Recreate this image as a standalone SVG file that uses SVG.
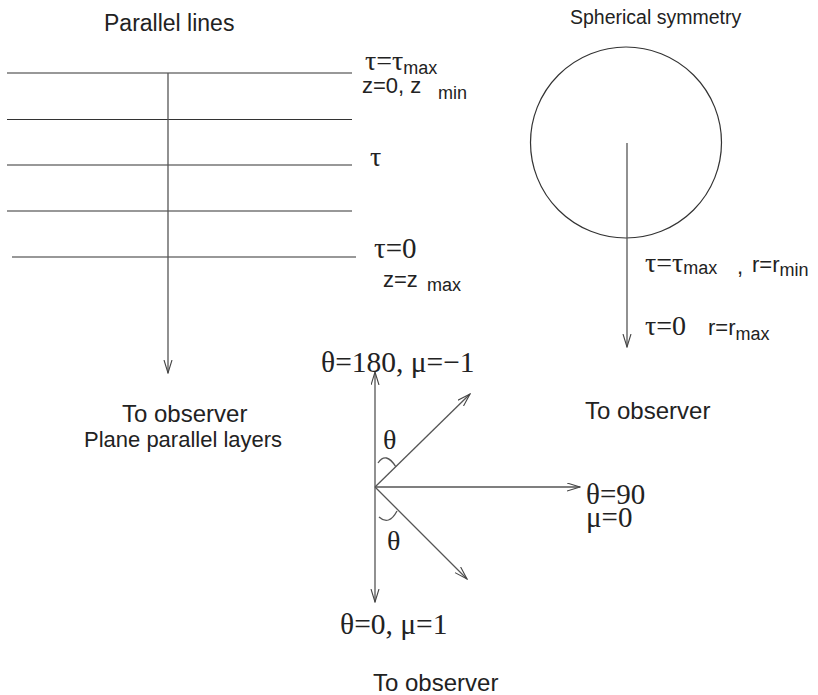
<svg xmlns="http://www.w3.org/2000/svg" width="818" height="695" viewBox="0 0 818 695">
<style>
.sans{font-family:"Liberation Sans",Arial,sans-serif;fill:#222}
.serif{font-family:"Liberation Serif","Times New Roman",serif;fill:#222}
.ln{stroke:#333;stroke-width:1.2;fill:none}
.ar{stroke:#555;stroke-width:1.3;fill:none}
</style>
<defs>
<marker id="v" markerUnits="userSpaceOnUse" markerWidth="14" markerHeight="10" refX="13" refY="4.5" orient="auto">
<path d="M0,0.5 L13,4.5 L0,8.5" fill="none" stroke="#444" stroke-width="1.1"/>
</marker>
</defs>
<rect width="818" height="695" fill="#fff"/>
<g id="parallel-lines">
<line class="ln" x1="7" y1="73" x2="352" y2="73"/>
<line class="ln" x1="7" y1="119.5" x2="352" y2="119.5"/>
<line class="ln" x1="7" y1="165" x2="352" y2="165"/>
<line class="ln" x1="7" y1="211" x2="352" y2="211"/>
<line class="ln" x1="12" y1="257" x2="356" y2="257"/>
</g>
<g id="sphere">
<circle cx="626" cy="142.5" r="95.5" fill="none" stroke="#333" stroke-width="1.2"/>
</g>
<g id="connectors">
<line class="ar" x1="168" y1="73" x2="168" y2="373" marker-end="url(#v)"/>
<line class="ar" x1="627" y1="143" x2="627" y2="347" marker-end="url(#v)"/>
<line class="ar" x1="375" y1="487" x2="375" y2="372" marker-end="url(#v)"/>
<line class="ar" x1="375" y1="487" x2="375" y2="602" marker-end="url(#v)"/>
<line class="ar" x1="375" y1="487" x2="470" y2="394" marker-end="url(#v)"/>
<line class="ar" x1="375" y1="487" x2="467" y2="579" marker-end="url(#v)"/>
<line class="ar" x1="375" y1="487" x2="580" y2="487" marker-end="url(#v)"/>
<path class="ar" d="M378,463 Q386,451 396,467"/>
<path class="ar" d="M379,517 Q389,526 397,511"/>
</g>
<g id="labels">
<text class="sans" x="104" y="31" font-size="23">Parallel lines</text>
<text class="sans" x="570" y="24" font-size="19.5">Spherical symmetry</text>
<text class="serif" x="365" y="70" font-size="28">τ=τ<tspan class="sans" font-size="18" dy="4">max</tspan></text>
<text class="sans" x="362" y="93" font-size="22">z=0, z</text>
<text class="sans" x="438" y="99" font-size="18">min</text>
<text class="serif" x="370" y="166" font-size="28">τ</text>
<text class="serif" x="374" y="258" font-size="29">τ=0</text>
<text class="sans" x="383" y="287" font-size="22">z=z</text>
<text class="sans" x="427" y="291" font-size="18">max</text>
<text class="serif" x="645" y="272" font-size="28">τ=τ<tspan class="sans" font-size="18" dy="2">max</tspan></text>
<text class="sans" x="737" y="274" font-size="22">,</text>
<text class="sans" x="752" y="272" font-size="22">r=r<tspan font-size="18" dy="4">min</tspan></text>
<text class="serif" x="645" y="335" font-size="28">τ=0</text>
<text class="sans" x="708" y="335" font-size="22">r=r<tspan font-size="18" dy="5">max</tspan></text>
<text class="serif" x="321" y="372" font-size="29.5">θ=180, μ=−1</text>
<text class="sans" x="122" y="422" font-size="24">To observer</text>
<text class="sans" x="585" y="419" font-size="24">To observer</text>
<text class="sans" x="84" y="447" font-size="22">Plane parallel layers</text>
<text class="serif" x="383" y="449" font-size="28">θ</text>
<text class="serif" x="586" y="504" font-size="29">θ=90</text>
<text class="serif" x="586" y="527" font-size="29">μ=0</text>
<text class="serif" x="387" y="550" font-size="28">θ</text>
<text class="serif" x="340" y="634" font-size="29.5">θ=0, μ=1</text>
<text class="sans" x="373" y="691" font-size="24">To observer</text>
</g>
</svg>
